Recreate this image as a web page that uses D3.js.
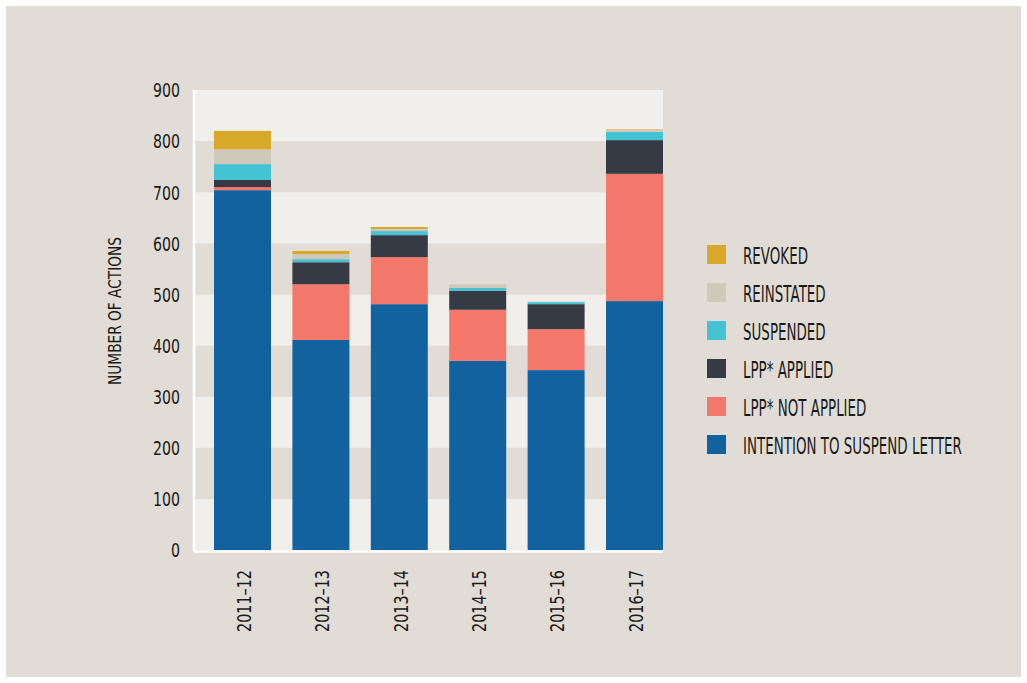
<!DOCTYPE html>
<html><head><meta charset="utf-8">
<script src="https://cdn.jsdelivr.net/npm/d3@7"></script>
<style>
html,body{margin:0;padding:0;background:#fff;}
text{font-family:"DejaVu Sans",sans-serif;fill:#1a1a1a;}
</style></head>
<body>
<svg id="c" width="1027" height="683"></svg>
<script>
const categories = ["2011\u201312","2012\u201313","2013\u201314","2014\u201315","2015\u201316","2016\u201317"];
const seriesNames = ["INTENTION TO SUSPEND LETTER","LPP* NOT APPLIED","LPP* APPLIED","SUSPENDED","REINSTATED","REVOKED"];
const intention   = [704, 411, 481, 370, 352, 487];
const notApplied  = [6, 109, 92, 100, 80, 249];
const applied     = [14, 43, 43, 37, 49, 66];
const suspended   = [31, 6, 8, 6, 4, 16];
const reinstated  = [29, 10, 4, 7, 1, 4];
const revoked     = [36, 6, 4, 0, 0, 1];
const yTicks = [0,100,200,300,400,500,600,700,800,900];
const colors = ["#12629f","#f4776b","#363a45","#45c3d3","#cfc9bc","#d8a82a"];

const seriesValues = [intention, notApplied, applied, suspended, reinstated, revoked];
const rows = categories.map((c,i)=>{
  const r = {cat:c};
  seriesNames.forEach((s,j)=>r[s]=seriesValues[j][i]);
  return r;
});

const svg = d3.select("#c");
svg.append("rect").attr("x",6).attr("y",6).attr("width",1015).attr("height",671).attr("fill","#e1ddd6");

const plotL = 194, plotR = 663, plotT = 90, plotB = 550;
const y = d3.scaleLinear().domain([0,900]).range([plotB, plotT]);
const x = d3.scaleBand().domain(categories).range([214, 663]).paddingInner(0.273).paddingOuter(0);

// alternating bands
const bands = yTicks.slice(0,-1).map((t,i)=>({lo:t, hi:yTicks[i+1], i}));
svg.append("g").selectAll("rect").data(bands).join("rect")
  .attr("x", plotL).attr("width", plotR - plotL)
  .attr("y", d=>y(d.hi)).attr("height", d=>y(d.lo)-y(d.hi))
  .attr("fill", d=> d.i % 2 === 0 ? "#f0efeb" : "#e1ddd6");

// bars
const stack = d3.stack().keys(seriesNames)(rows);
const gBars = svg.append("g");
stack.forEach((layer,j)=>{
  gBars.append("g").attr("fill", colors[j]).selectAll("rect").data(layer).join("rect")
    .attr("x", d=>x(d.data.cat)).attr("width", x.bandwidth())
    .attr("y", d=>y(d[1])).attr("height", d=>Math.max(0, y(d[0])-y(d[1])));
});

// axis lines (white)
svg.append("line").attr("x1",plotL).attr("x2",plotL).attr("y1",plotT).attr("y2",plotB+1.5)
  .attr("stroke","#fff").attr("stroke-width",2.5);
svg.append("line").attr("x1",plotL).attr("x2",plotR).attr("y1",plotB+1.5).attr("y2",plotB+1.5)
  .attr("stroke","#fff").attr("stroke-width",2.5);

// horizontal compression factor for a condensed look
function fitScale(sel, target){
  let maxLen = 0;
  sel.each(function(){ maxLen = Math.max(maxLen, this.getComputedTextLength()); });
  return target / maxLen;
}

// y axis
const yAxis = d3.axisLeft(y).tickValues(yTicks).tickSize(0).tickPadding(0);
const gy = svg.append("g").attr("transform", `translate(180,0)`).call(yAxis);
gy.select(".domain").remove();
const yt = gy.selectAll("text").style("font-size","19px").attr("fill","#1a1a1a")
  .attr("x",0).attr("dy","0.36em");
const sy = fitScale(yt, 27);
yt.attr("transform", `scale(${sy},1)`);

// x axis
const xAxis = d3.axisBottom(x).tickSize(0).tickPadding(0);
const gx = svg.append("g").attr("transform", `translate(1,570)`).call(xAxis);
gx.select(".domain").remove();
const xt = gx.selectAll("text").style("font-size","20px").attr("fill","#1a1a1a")
  .attr("text-anchor","end").attr("x",0).attr("y",0).attr("dy","0.36em");
const sx = fitScale(xt, 62);
xt.attr("transform",`rotate(-90) scale(${sx},1)`);

// y label
const yl = svg.append("text")
  .attr("text-anchor","middle").attr("dy","0.36em").style("font-size","18px")
  .text("NUMBER OF ACTIONS");
const sl = fitScale(yl, 148);
yl.attr("transform",`translate(115,311) rotate(-90) scale(${sl},1)`);

// legend
const legendOrder = seriesNames.map((s,j)=>({s, c:colors[j]})).reverse();
const lg = svg.append("g").selectAll("g").data(legendOrder).join("g")
  .attr("transform",(d,i)=>`translate(707,${245 + i*38})`);
lg.append("rect").attr("width",19).attr("height",19).attr("fill",d=>d.c);
const lt = lg.append("text").attr("x",0).attr("y",19).style("font-size","23px")
  .text(d=>d.s);
const sg = fitScale(lt, 219);
lt.attr("transform",`translate(36,0) scale(${sg},1)`);
</script>
</body></html>
